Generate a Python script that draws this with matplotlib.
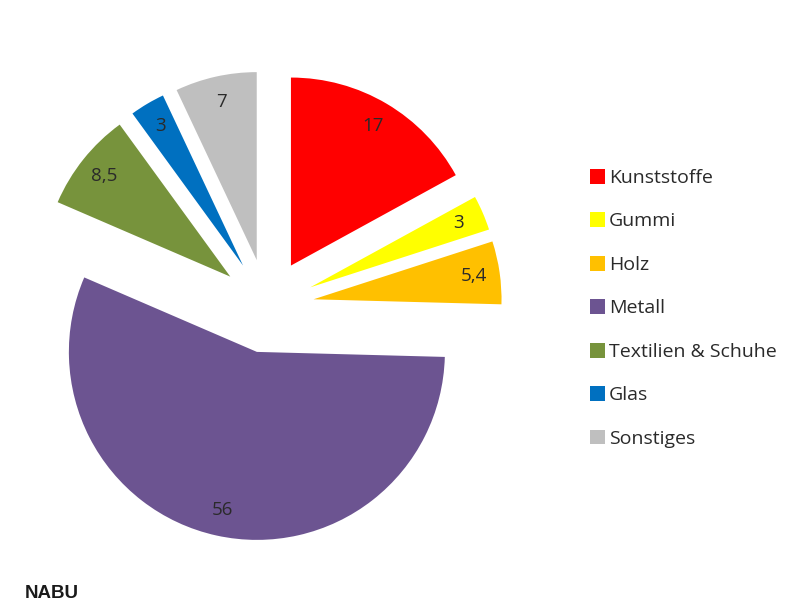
import matplotlib
matplotlib.use("Agg")
import matplotlib.pyplot as plt
import numpy as np

categories = ["Kunststoffe", "Gummi", "Holz", "Metall", "Textilien & Schuhe", "Glas", "Sonstiges"]
values = [17, 3, 5.4, 56, 8.5, 3, 7]
value_labels = ["17", "3", "5,4", "56", "8,5", "3", "7"]
colors = ["#FF0000", "#FFFF00", "#FFC000", "#6C5491", "#77933C", "#0070C0", "#BFBFBF"]
source = "NABU"

W, H = 800, 606
fig = plt.figure(figsize=(W / 100, H / 100), dpi=100)
ax = fig.add_axes([0, 0, 1, 1])

font = ["Open Sans", "DejaVu Sans"]
R = 188
cx, cy = 267, H - 306
offset = 0.25 * R
wedges, _ = ax.pie(values, colors=colors, startangle=90, counterclock=False,
                   radius=R, center=(cx, cy), explode=[offset] * len(values),
                   wedgeprops=dict(linewidth=0), frame=True)
ax.set_xlim(0, W)
ax.set_ylim(0, H)
ax.set_aspect("equal")
ax.axis("off")

for w, lab in zip(wedges, value_labels):
    ang = np.deg2rad((w.theta1 + w.theta2) / 2)
    x = w.center[0] + 0.86 * w.r * np.cos(ang)
    y = w.center[1] + 0.86 * w.r * np.sin(ang)
    ax.text(x, y, lab, ha="center", va="center", fontsize=13.5, family=font, color="#2a2a2a")

leg = ax.legend(wedges, categories, loc="upper left", bbox_to_anchor=(582 / W, 1 - 161 / H),
                frameon=False, prop=dict(family=font, size=14), handlelength=0.8,
                handleheight=0.8, handletextpad=0.2, labelspacing=1.3, borderaxespad=0,
                labelcolor="#2a2a2a")

fig.text(25 / W, 1 - 594 / H, source, fontsize=13.5, fontweight="bold",
         family=["Liberation Sans", "DejaVu Sans"], ha="left", va="center", color="#1a1a1a")

fig.savefig("out.png", dpi=100, facecolor="white")
